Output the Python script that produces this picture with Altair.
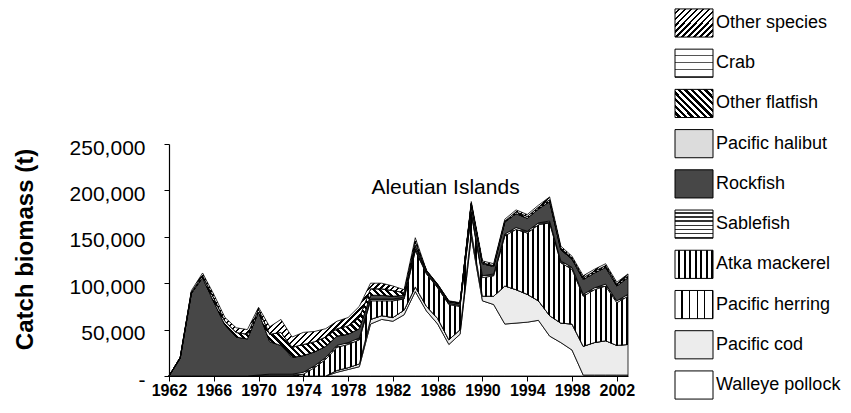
import math
import altair as alt
import pandas as pd

# ---------------- data (tonnes) ----------------
years = list(range(1962, 2004))

walleye_pollock = [0, 0, 0, 0, 0, 0, 0, 0, 0, 0, 0, 0, 0, 0, 0,
                   4000, 7000, 10000, 56000, 61000, 59000, 66000, 91000, 70000, 56000,
                   34000, 45000, 150000, 81000, 77000, 56000, 57000, 58000, 60000, 43000,
                   36000, 28000, 1000, 1000, 1000, 1000, 1000]
pacific_cod = [0, 0, 0, 0, 0, 0, 0, 0, 0, 0, 0, 0, 0, 0, 0,
               2000, 2000, 3000, 5000, 4000, 4000, 5000, 5000, 5000, 6000,
               5000, 5000, 6000, 5000, 9000, 41000, 36000, 30000, 21000, 22000,
               21000, 28000, 31000, 35000, 37000, 32000, 33000]
pacific_herring = [0, 0, 0, 0, 0, 0, 0, 0, 0, 0, 0, 0, 0, 0, 0, 0, 0, 0, 0, 0, 0,
                   0, 0, 0, 0, 0, 0, 0, 0, 0, 0, 0, 0, 0, 0, 0, 0, 0, 0, 0, 0, 0]
atka_mackerel = [0, 0, 0, 0, 0, 0, 0, 0, 0, 0, 0, 0,
                 2000, 9000, 18000, 25000, 25000, 26000, 20000, 16000, 18000, 12000,
                 39000, 35000, 33000, 38000, 25000, 19000, 20000, 22000, 54000, 65000,
                 66000, 82000, 100000, 65000, 59000, 54000, 57000, 59000, 46000, 52000]
sablefish = [0, 0, 0, 0, 0, 0, 0, 0, 1000, 2000,
             2000, 2000, 2000, 2000, 2000, 2000, 2000, 2000, 2000, 2000,
             2000, 2000, 2000, 1000, 1000, 1000, 1000, 2000, 2000, 2000,
             2000, 2000, 2000, 2000, 2000, 2000, 2000, 2000, 2000, 2000,
             2000, 2000]
rockfish = [0, 19000, 89000, 106000, 80000, 55000, 42000, 40000, 68000, 35000,
            31000, 18000, 18000, 15000, 12000, 10000, 9000, 10000, 4000, 4000,
            3000, 2000, 4000, 2000, 2000, 2000, 2000, 8000, 13000, 8000,
            13000, 15000, 14000, 15000, 21000, 12000, 9000, 16000, 16000, 18000,
            16000, 18000]
pacific_halibut = [0, 0, 0, 0, 0, 0, 0, 0, 0, 0, 0, 0, 0, 0, 0, 0, 0, 0, 0, 0, 0,
                   0, 0, 0, 0, 0, 0, 0, 0, 0, 0, 0, 0, 0, 0, 0, 0, 0, 0, 0, 0, 0]
other_flatfish = [0, 1000, 1500, 2500, 4000, 4000, 5000, 5000, 3000, 8000,
                  14000, 11000, 12000, 11000, 10000, 8000, 9000, 12000, 7000, 7000,
                  6000, 3000, 4000, 500, 500, 500, 500, 1000, 1000, 1000,
                  1000, 2000, 2000, 2000, 2000, 2000, 1000, 2000, 2000, 2000,
                  2000, 2000]
crab = [0, 0, 0, 0, 0, 0, 0, 0, 0, 0, 0, 0, 0, 0, 0, 0, 0, 0, 0, 0, 0,
        0, 0, 0, 0, 0, 0, 0, 0, 0, 0, 0, 0, 0, 0, 0, 0, 0, 0, 0, 0, 0]
other_species = [0, 0, 1500, 2500, 4000, 4000, 5000, 5000, 2000, 8000,
                 14000, 11000, 13000, 11000, 9000, 8000, 9000, 12000, 6000, 6000,
                 5000, 3000, 4000, 500, 500, 500, 500, 2000, 2000, 2000,
                 2000, 2000, 2000, 2000, 3000, 2000, 2000, 2000, 2000, 2000,
                 2000, 2000]

# bottom -> top of the stack
stack_order = [
    ("Walleye pollock", walleye_pollock),
    ("Pacific cod", pacific_cod),
    ("Pacific herring", pacific_herring),
    ("Atka mackerel", atka_mackerel),
    ("Sablefish", sablefish),
    ("Rockfish", rockfish),
    ("Pacific halibut", pacific_halibut),
    ("Other flatfish", other_flatfish),
    ("Crab", crab),
    ("Other species", other_species),
]
legend_order = [name for name, _ in reversed(stack_order)]
x_tick_years = [1962, 1966, 1970, 1974, 1978, 1982, 1986, 1990, 1994, 1998, 2002]
y_ticks = [0, 50000, 100000, 150000, 200000, 250000]

rows = []
for order, (name, vals) in enumerate(stack_order):
    for yr, v in zip(years, vals):
        rows.append({"year": yr, "species": name, "catch": v, "order": order})
df = pd.DataFrame(rows)
leg_df = pd.DataFrame({"species": legend_order, "idx": list(range(len(legend_order)))})

# ---------------- layout / style ----------------
W, H = 459, 232
YMAX = 250000
FONT = "Liberation Sans"


def stripes(n, frac, dark, light, x1, y1, x2, y2):
    n = max(1, int(round(n)))
    stops = []
    for i in range(n):
        a = i / n
        b = (i + 1 - frac) / n
        c = (i + 1) / n
        stops += [(a, light), (b, light), (b, dark), (c, dark)]
    return alt.LinearGradient(
        gradient="linear",
        stops=[alt.GradientStop(offset=round(o, 5), color=col) for o, col in stops],
        x1=x1, y1=y1, x2=x2, y2=y2,
    )


def vert(w, h, period, frac, dark="black", light="white"):
    return stripes(w / period, frac, dark, light, 0, 0, 1, 0)


def horiz(w, h, period, frac, dark="black", light="white"):
    return stripes(max(h, 1) / period, frac, dark, light, 0, 0, 0, 1)


def diag_up(w, h, period, frac, dark="black", light="white"):
    h = max(h, 1)
    k = w * (w + h) / (w * w + h * h)
    return stripes((w + h) / (period * math.sqrt(2)), frac, dark, light, 0, 0, k, k * h / w)


def diag_down(w, h, period, frac, dark="black", light="white"):
    h = max(h, 1)
    k = w * (w + h) / (w * w + h * h)
    return stripes((w + h) / (period * math.sqrt(2)), frac, dark, light, 0, 1, k, 1 - k * h / w)


def fill_for(name, w, h):
    if name == "Walleye pollock":
        return "white"
    if name == "Pacific cod":
        return "#ececec"
    if name == "Pacific herring":
        return vert(w, h, 8, 0.15)
    if name == "Atka mackerel":
        return vert(w, h, 5.2, 0.38)
    if name == "Sablefish":
        return horiz(w, h, 4, 0.4, "#333333")
    if name == "Rockfish":
        return "#474747"
    if name == "Pacific halibut":
        return "#dcdcdc"
    if name == "Other flatfish":
        return diag_down(w, h, 4.5, 0.5)
    if name == "Crab":
        return horiz(w, h, 7, 0.15, "#555555")
    return diag_up(w, h, 4.2, 0.35)


# pixel extent of each stacked band (for pattern scaling only)
cum = [0] * len(years)
band_h = {}
for name, vals in stack_order:
    top = [c + v for c, v in zip(cum, vals)]
    band_h[name] = (max(top) - min(cum)) / YMAX * H
    cum = top

x_enc = alt.X(
    "year:Q",
    scale=alt.Scale(domain=[1962, 2003], nice=False, zero=False),
    axis=alt.Axis(values=x_tick_years, format="d", labelFontSize=16, labelFontWeight="bold",
                  tickSize=5, labelPadding=1, title=None, labelFlush=False, labelOverlap=False,
                  domainWidth=1.2),
)
y_scale = alt.Scale(domain=[0, YMAX], nice=False, zero=True)
y_axis = alt.Axis(
    values=y_ticks,
    labelExpr="datum.value == 0 ? '-\u00a0' : format(datum.value, ',')",
    labelFontSize=21, tickSize=5, labelPadding=19, labelOffset=4, labelFlush=False,
    title="Catch biomass (t)", titleFontSize=24, titleFontWeight="bold",
    titleAngle=270, titleX=-144, titleY=105, titleAlign="center", titleBaseline="middle",
    domainWidth=1.2,
)

layers = []
for i, (name, vals) in enumerate(stack_order):
    layers.append(
        alt.Chart(df)
        .transform_stack(stack="catch", groupby=["year"], as_=["y0", "y1"],
                         sort=[alt.SortField("order", order="ascending")])
        .transform_filter(alt.datum.species == name)
        .mark_area(fill=fill_for(name, W, band_h[name]), stroke="black",
                   strokeWidth=0.8, opacity=1, interpolate="linear")
        .encode(
            x=x_enc,
            y=alt.Y("y1:Q", scale=y_scale, axis=y_axis if i == 0 else None),
            y2=alt.Y2("y0"),
        )
    )

# legend (boxes + labels) drawn to the right of the plot
leg_scale = alt.Scale(domain=[0, 9], range=[-121, 241], nice=False, zero=False)
BOX_W, BOX_H = 38, 28
half = 0.35
for name in legend_order:
    layers.append(
        alt.Chart(leg_df)
        .transform_filter(alt.datum.species == name)
        .transform_calculate(top=f"datum.idx - {half}", bot=f"datum.idx + {half}")
        .mark_rect(fill=fill_for(name, BOX_W, BOX_H), stroke="black", strokeWidth=1)
        .encode(
            x=alt.value(506), x2=alt.value(544),
            y=alt.Y("top:Q", scale=leg_scale, axis=None),
            y2=alt.Y2("bot"),
        )
    )
layers.append(
    alt.Chart(leg_df)
    .mark_text(align="left", baseline="middle", font=FONT, fontSize=18, color="black")
    .encode(x=alt.value(547), y=alt.Y("idx:Q", scale=leg_scale, axis=None), text="species:N")
)

chart = (
    alt.layer(*layers)
    .resolve_scale(y="independent")
    .properties(
        width=W, height=H,
        autosize=alt.AutoSizeParams(type="none"),
        padding={"left": 161, "top": 136, "right": 215, "bottom": 24},
        title=alt.TitleParams("Aleutian Islands", font=FONT, fontSize=21, fontWeight="normal",
                              anchor="middle", dx=47, dy=207, offset=0, baseline="alphabetic",
                              color="black"),
    )
    .configure_axis(labelFont=FONT, titleFont=FONT, labelColor="black", titleColor="black",
                    domainColor="black", tickColor="black", grid=False)
    .configure_view(stroke=None)
)

chart.save("out.html", embed_options={"renderer": "svg", "actions": False})
